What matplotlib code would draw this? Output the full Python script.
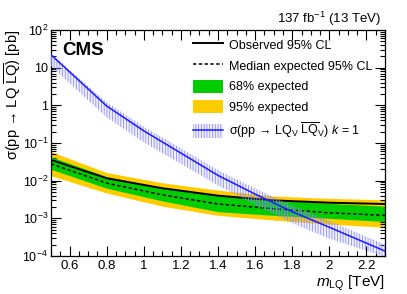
import numpy as np
import matplotlib
matplotlib.use("Agg")
import matplotlib.pyplot as plt
from matplotlib.patches import Patch
from matplotlib.lines import Line2D
from matplotlib.ticker import FixedLocator, LogLocator, NullFormatter, MultipleLocator

plt.rcParams['font.family'] = ['Liberation Sans', 'DejaVu Sans']
plt.rcParams['mathtext.fontset'] = 'custom'
plt.rcParams['mathtext.rm'] = 'Liberation Sans'
plt.rcParams['mathtext.it'] = 'Liberation Sans:italic'
plt.rcParams['hatch.linewidth'] = 0.6

# ---- data ----
mass = [0.5, 0.8, 1.1, 1.4, 1.7, 2.0, 2.3]
observed = [0.0356, 0.0116, 0.0063, 0.0040, 0.0030, 0.0026, 0.0024]
expected = [0.028, 0.0086, 0.0042, 0.0024, 0.0018, 0.0014, 0.0012]
exp68_lo = [0.020, 0.0063, 0.0029, 0.0015, 0.0012, 0.0010, 0.00082]
exp68_hi = [0.043, 0.0128, 0.0064, 0.0042, 0.0030, 0.0025, 0.0021]
exp95_lo = [0.0135, 0.0047, 0.0021, 0.0012, 0.0009, 0.0007, 0.00058]
exp95_hi = [0.059, 0.0164, 0.0088, 0.0056, 0.0039, 0.0034, 0.0031]

th_mass = [0.5, 0.8, 1.0, 1.2, 1.4, 1.6, 1.8, 2.0, 2.3]
th_xsec = [22.0, 0.96, 0.21, 0.054, 0.0138, 0.0044, 0.0015, 5.8e-4, 1.35e-4]
th_hi = [24.0, 1.2, 0.27, 0.072, 0.019, 0.0062, 0.0022, 8.5e-4, 2.0e-4]
th_lo = [11.0, 0.48, 0.105, 0.028, 0.0075, 0.0023, 7.5e-4, 2.9e-4, 0.95e-4]

xticks = [0.6, 0.8, 1.0, 1.2, 1.4, 1.6, 1.8, 2.0, 2.2]
xticklabels = ['0.6', '0.8', '1', '1.2', '1.4', '1.6', '1.8', '2', '2.2']
yticks = [1e-4, 1e-3, 1e-2, 1e-1, 1, 10, 100]
yticklabels = [r'$10^{-4}$', r'$10^{-3}$', r'$10^{-2}$', r'$10^{-1}$', '1', '10', r'$10^{2}$']

GREEN = '#00cc00'
YELLOW = '#ffcc00'
BLUE = '#1a1aff'
HATCH = '#8a8aff'

W, H = 407, 294
fig = plt.figure(figsize=(W / 100, H / 100), dpi=100)
ax = fig.add_axes([51 / W, (H - 256) / H, (385 - 51) / W, (256 - 30) / H])

ax.fill_between(mass, exp95_lo, exp95_hi, color=YELLOW, lw=0, zorder=1)
ax.fill_between(mass, exp68_lo, exp68_hi, color=GREEN, lw=0, zorder=2)
ax.plot(mass, expected, color='black', ls=(0, (2.2, 1.6)), lw=1.1, zorder=3)
ax.plot(mass, observed, color='black', lw=1.4, zorder=4)
ax.fill_between(th_mass, th_lo, th_hi, facecolor=(0.55, 0.55, 1.0, 0.12),
                edgecolor=HATCH, hatch='||||||', lw=0, zorder=5)
ax.plot(th_mass, th_xsec, color=BLUE, lw=1.1, zorder=6)

ax.set_yscale('log')
ax.set_xlim(0.5, 2.3)
ax.set_ylim(1e-4, 1e2)

fs = 9
ax.xaxis.set_major_locator(FixedLocator(xticks))
ax.set_xticklabels(xticklabels, fontsize=9.5)
ax.xaxis.set_minor_locator(MultipleLocator(0.05))
ax.yaxis.set_major_locator(FixedLocator(yticks))
ax.set_yticklabels(yticklabels, fontsize=fs)
ax.yaxis.set_minor_locator(LogLocator(base=10, subs=np.arange(2, 10), numticks=20))
ax.yaxis.set_minor_formatter(NullFormatter())
ax.tick_params(which='both', direction='in', top=True, right=True, width=0.8)
ax.tick_params(which='major', length=7, pad=3)
ax.tick_params(axis='y', which='major', pad=2)
ax.tick_params(which='minor', length=3.5)
for s in ax.spines.values():
    s.set_linewidth(0.9)

ax.set_xlabel(r'$\mathit{m}_{\rm LQ}$ [TeV]', fontsize=11, loc='right', labelpad=1)
fig.text(13 / W, 1 - 30 / H, 'σ(pp → LQ ' + r'$\overline{\rm LQ}$' + ') [pb]', fontsize=10.5,
         rotation=90, ha='center', va='top')

fig.text(381 / W, 1 - 23 / H, r'137 fb$^{-1}$ (13 TeV)', ha='right', va='baseline', fontsize=9.5)
fig.text(62 / W, 1 - 55 / H, 'CMS', fontsize=13.5,
         fontweight='bold', ha='left', va='baseline')

handles = [
    Line2D([], [], color='black', lw=1.4),
    Line2D([], [], color='black', ls=(0, (2.2, 1.6)), lw=1.1),
    Patch(facecolor=GREEN, edgecolor='none'),
    Patch(facecolor=YELLOW, edgecolor='none'),
    (Patch(facecolor=(0.55, 0.55, 1.0, 0.12), edgecolor=HATCH, hatch='||||||', lw=0),
     Line2D([], [], color=BLUE, lw=1.1)),
]
labels = ['Observed 95% CL', 'Median expected 95% CL', '68% expected', '95% expected',
          'σ(pp → LQ' + r'$_{\rm V}$ $\overline{\rm LQ}_{\rm V}$' + ') ' + r'$\mathit{k}$ = 1']
fsl = 9
fpx = fsl * 100 / 72
leg = fig.legend(handles, labels, loc='upper left',
                 bbox_to_anchor=(193 / W, 1 - 38 / H), frameon=False, fontsize=fsl,
                 handlelength=30 / fpx, handleheight=15.5 / fpx,
                 labelspacing=(22.5 - 15.5) / fpx, handletextpad=6 / fpx,
                 borderaxespad=0, borderpad=0)

fig.savefig('out.png', dpi=100)
